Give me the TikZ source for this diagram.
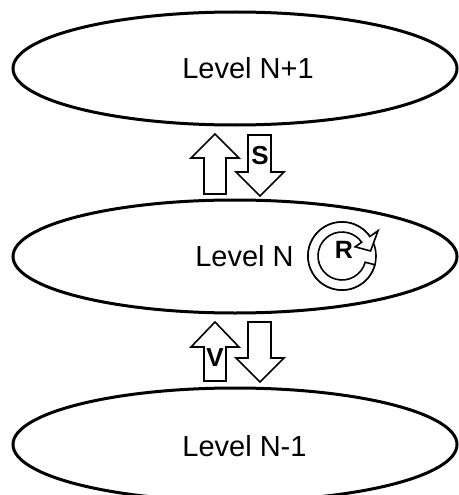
\documentclass[tikz,border=0pt]{standalone}
\usepackage{fontspec}
\setmainfont{Liberation Sans}
\usetikzlibrary{calc}
\begin{document}
\begin{tikzpicture}[x=1pt,y=-1pt,
  levelshape/.style={line width=3pt},
  blockarrow/.style={draw,line width=1.6pt,fill=white,line join=miter},
  leveltext/.style={font=\fontsize{29}{30}\selectfont,inner sep=0pt},
  tagtext/.style={font=\fontsize{26}{27}\selectfont\bfseries,inner sep=0pt}]
\useasboundingbox (0,0) rectangle (458,495);
% level ellipses
\coordinate (ctop) at (235,68.5);
\coordinate (cmid) at (235,256.5);
\coordinate (cbot) at (235,444.5);
\draw[levelshape] (ctop) ellipse [x radius=222, y radius=56.5];
\draw[levelshape] (cmid) ellipse [x radius=222, y radius=56.5];
\draw[levelshape] (cbot) ellipse [x radius=222, y radius=56.5];
\node[leveltext] (ltop) at (248,68) {Level N+1};
\node[leveltext] (lmid) at (244.5,256) {Level N};
\node[leveltext] (lbot) at (244.5,446) {Level N-1};
% upper pair of block arrows
\draw[blockarrow] (215,134) -- (239,158) -- (226,158) -- (226,194) -- (204,194) -- (204,158) -- (191,158) -- cycle;
\draw[blockarrow] (248,135) -- (271,135) -- (271,172) -- (284,172) -- (260,196) -- (236,172) -- (248,172) -- cycle;
\node[tagtext] (s) at (260,156) {S};
% lower pair of block arrows
\draw[blockarrow] (215,322) -- (239,347) -- (226,347) -- (226,381) -- (204,381) -- (204,347) -- (191,347) -- cycle;
\draw[blockarrow] (248,322) -- (271,322) -- (271,358) -- (284,358) -- (260,382) -- (236,358) -- (248,358) -- cycle;
\node[tagtext] (v) at (215,358) {V};
% circular R symbol
\coordinate (rc) at (342,256);
\draw[line width=1.6pt] (rc) circle [radius=34];
\draw[line width=1.6pt,fill=white,line join=miter]
  ($(rc)+(15:24)$) arc[start angle=15, end angle=325, radius=24]
  -- ($(rc)+(325:16)$) -- ($(rc)+(350:29)$) -- ($(rc)+(325:44)$)
  -- ($(rc)+(325:34)$) arc[start angle=325, end angle=15, radius=34] -- cycle;
\node[font=\fontsize{25}{26}\selectfont\bfseries,inner sep=0pt] (r) at (344,250) {R};
\end{tikzpicture}
\end{document}
